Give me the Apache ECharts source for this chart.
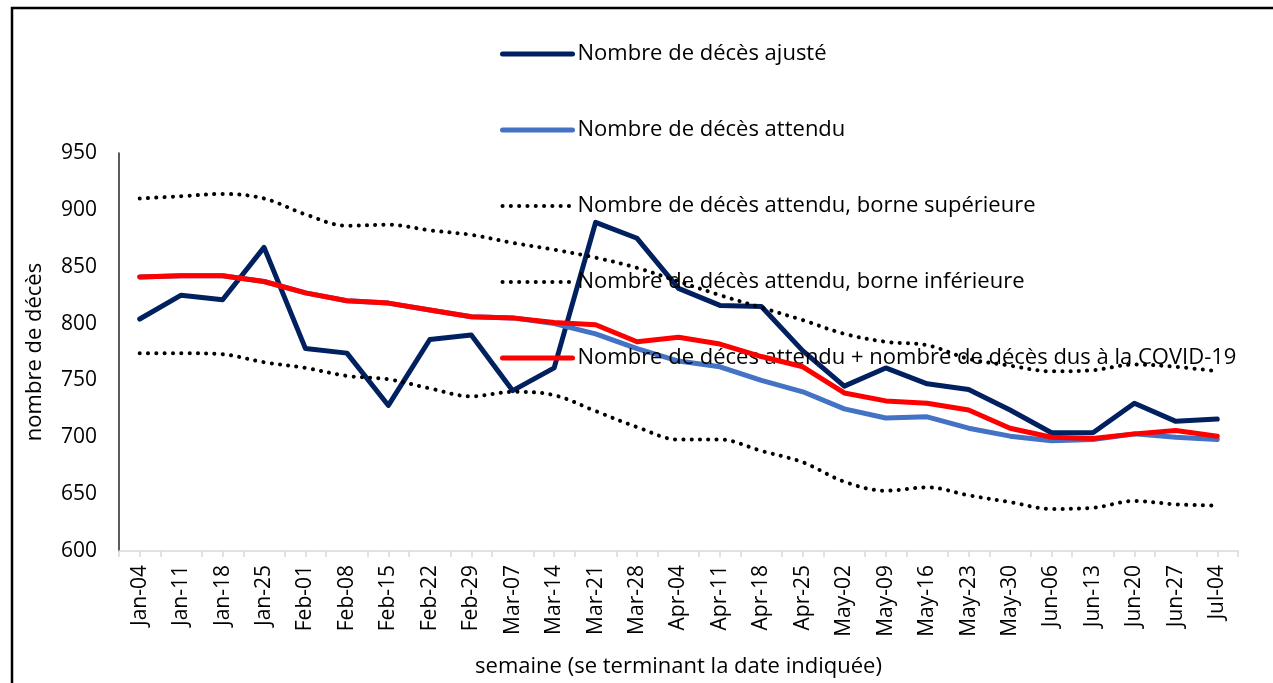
<!DOCTYPE html>
<html><head><meta charset="utf-8">
<script src="https://cdn.jsdelivr.net/npm/echarts@6/dist/echarts.min.js"></script>
<style>html,body{margin:0;padding:0;background:#fff}#c{width:1273px;height:683px}</style>
</head><body><div id="c"></div>
<script>
const categories = ['Jan-04','Jan-11','Jan-18','Jan-25','Feb-01','Feb-08','Feb-15','Feb-22','Feb-29','Mar-07','Mar-14','Mar-21','Mar-28','Apr-04','Apr-11','Apr-18','Apr-25','May-02','May-09','May-16','May-23','May-30','Jun-06','Jun-13','Jun-20','Jun-27','Jul-04'];
const ajuste       = [804, 825, 821, 867, 778, 774, 728, 786, 790, 741, 761, 889, 875, 831, 816, 815, 776, 745, 761, 747, 742, 724, 704, 704, 730, 714, 716];
const attendu      = [841, 842, 842, 837, 827, 820, 818, 812, 806, 805, 800, 791, 778, 767, 762, 750, 740, 725, 717, 718, 708, 701, 697, 698, 703, 700, 698];
const borneSup     = [910, 912, 914, 910, 896, 886, 887, 882, 878, 871, 865, 858, 849, 837, 825, 814, 803, 791, 784, 781, 769, 763, 758, 759, 764, 762, 758];
const borneInf     = [774, 774, 773, 766, 761, 754, 751, 743, 736, 740, 737, 723, 709, 698, 698, 688, 678, 661, 653, 656, 649, 643, 637, 638, 644, 641, 640];
const attenduCovid = [841, 842, 842, 837, 827, 820, 818, 812, 806, 805, 801, 799, 784, 788, 782, 771, 762, 739, 732, 730, 724, 708, 700, 699, 703, 706, 701];
const seriesNames = ['Nombre de décès ajusté','Nombre de décès attendu','Nombre de décès attendu, borne supérieure','Nombre de décès attendu, borne inférieure','Nombre de décès attendu + nombre de décès dus à la COVID-19'];
const yMin = 600, yMax = 950, yStep = 50;

const FONT = 'Open Sans';
const chart = echarts.init(document.getElementById('c'), null, {renderer:'canvas'});
const dotted = {type:[0.1, 8.2], cap:'round', width:4, color:'#000'};
const solid = c => ({color:c, width:5, cap:'round', join:'round', type:'solid'});
const colors = ['#002060','#4472C4','#000','#000','#FF0000'];
const legendStyles = [solid(colors[0]), solid(colors[1]), dotted, dotted, solid(colors[4])];
chart.setOption({
  animation:false,
  backgroundColor:'#fff',
  textStyle:{fontFamily:FONT, color:'#000'},
  graphic:[{type:'rect', shape:{x:12, y:8, width:1400, height:800}, style:{fill:null, stroke:'#000', lineWidth:2.5}, silent:true}],
  grid:{left:119, right:35, top:153, bottom:132, containLabel:false},
  legend:{
    orient:'vertical', left:500, top:41, padding:0, itemWidth:70, itemHeight:14, itemGap:50,
    itemStyle:{opacity:0},
    textStyle:{fontFamily:FONT, fontSize:22, color:'#000', lineHeight:26},
    data: seriesNames.map((n, i) => ({name:n, lineStyle:legendStyles[i]}))
  },
  xAxis:[{
    type:'category', data:categories, boundaryGap:true,
    axisLine:{lineStyle:{color:'#d9d9d9', width:1.5}},
    axisTick:{show:true, length:6, lineStyle:{color:'#d9d9d9', width:1.5}},
    axisLabel:{rotate:90, fontFamily:FONT, fontSize:21, color:'#000', margin:14, interval:0},
    name:'semaine (se terminant la date indiquée)', nameLocation:'middle', nameGap:105,
    nameTextStyle:{fontFamily:FONT, fontSize:22, color:'#000'}
  },{
    type:'category', data:categories, boundaryGap:true, position:'bottom', gridIndex:0,
    axisLine:{show:false}, axisLabel:{show:false}, splitLine:{show:false},
    axisTick:{show:true, alignWithLabel:true, length:6, lineStyle:{color:'#d9d9d9', width:1.5}}
  }],
  yAxis:{
    type:'value', min:yMin, max:yMax, interval:yStep,
    axisLine:{show:true, lineStyle:{color:'#262626', width:1.5}},
    axisTick:{show:false}, splitLine:{show:false},
    axisLabel:{fontFamily:FONT, fontSize:21, color:'#000', margin:22},
    name:'nombre de décès', nameLocation:'middle', nameGap:73, nameRotate:90,
    nameTextStyle:{fontFamily:FONT, fontSize:22, color:'#000'}
  },
  series:[
    {name:seriesNames[0], type:'line', data:ajuste, symbol:'none', lineStyle:solid(colors[0]), itemStyle:{color:colors[0]}, z:2},
    {name:seriesNames[1], type:'line', data:attendu, symbol:'none', lineStyle:solid(colors[1]), itemStyle:{color:colors[1]}, z:3},
    {name:seriesNames[2], type:'line', data:borneSup, symbol:'none', smooth:0.35, lineStyle:dotted, itemStyle:{color:colors[2]}, z:4},
    {name:seriesNames[3], type:'line', data:borneInf, symbol:'none', smooth:0.35, lineStyle:dotted, itemStyle:{color:colors[3]}, z:4},
    {name:seriesNames[4], type:'line', data:attenduCovid, symbol:'none', lineStyle:solid(colors[4]), itemStyle:{color:colors[4]}, z:5}
  ]
});
</script></body></html>
